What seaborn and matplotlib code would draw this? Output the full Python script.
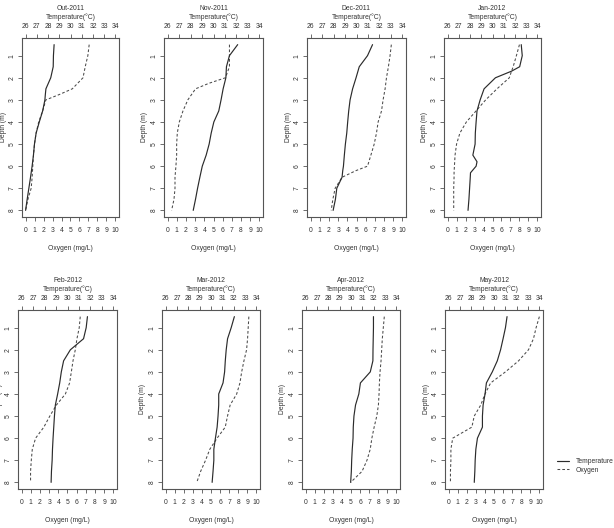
import matplotlib
matplotlib.use('Agg')
import matplotlib.pyplot as plt
import seaborn as sns
from matplotlib.lines import Line2D

# ---------------- data ----------------
months = ['Out-2011', 'Nov-2011', 'Dec-2011', 'Jan-2012',
          'Feb-2012', 'Mar-2012', 'Apr-2012', 'May-2012']
oxy_ticks = [0, 1, 2, 3, 4, 5, 6, 7, 8, 9, 10]
temp_ticks = [26, 27, 28, 29, 30, 31, 32, 33, 34]
depth_ticks = [1, 2, 3, 4, 5, 6, 7, 8]

depth_out = [0.5, 1, 1.5, 2, 2.5, 2.75, 3, 3.5, 4, 4.5, 5, 5.5, 6, 6.5, 7, 7.5, 8]
temp_out = [28.54, 28.48, 28.46, 28.24, 27.81, 27.76, 27.72, 27.52, 27.22, 26.94, 26.79, 26.70, 26.58, 26.44, 26.29, 26.14, 26.00]
oxy_out = [7.08, 6.93, 6.64, 6.39, 5.2, 3.8, 2.26, 1.9, 1.46, 1.17, 0.99, 0.88, 0.8, 0.73, 0.62, 0.26, 0.0]

depth_nov = [0.5, 1, 1.5, 2, 2.25, 2.5, 3, 3.5, 4, 4.5, 5, 5.5, 6, 6.5, 7, 7.5, 8]
temp_nov = [32.11, 31.39, 31.13, 31.08, 30.96, 30.84, 30.66, 30.46, 30.03, 29.80, 29.62, 29.36, 29.02, 28.81, 28.61, 28.43, 28.23]
oxy_nov = [6.74, 6.74, 6.74, 6.3, 4.5, 3.04, 2.2, 1.67, 1.27, 1.05, 0.98, 0.98, 0.9, 0.8, 0.8, 0.69, 0.43]

depth_dec = [0.5, 1, 1.5, 2, 2.5, 3, 3.5, 4, 4.5, 5, 5.5, 6, 6.2, 6.5, 7, 7.5, 8]
temp_dec = [31.40, 30.96, 30.24, 29.96, 29.66, 29.44, 29.32, 29.23, 29.15, 29.03, 28.94, 28.86, 28.80, 28.74, 28.28, 28.16, 27.96]
oxy_dec = [8.8, 8.66, 8.48, 8.27, 8.12, 7.9, 7.73, 7.36, 7.18, 6.93, 6.57, 6.2, 4.95, 3.43, 2.67, 2.42, 2.24]

depth_jan = [0.5, 1, 1.5, 1.7, 2, 2.5, 3, 3.5, 4, 4.5, 5, 5.5, 5.8, 6, 6.3, 6.5, 7, 7.5, 8]
temp_jan = [32.56, 32.65, 32.42, 31.70, 30.26, 29.25, 28.90, 28.62, 28.54, 28.47, 28.45, 28.25, 28.62, 28.54, 28.04, 28.02, 27.96, 27.90, 27.82]
oxy_jan = [8.0, 7.66, 7.3, 7.12, 6.87, 5.5, 4.24, 3.17, 2.09, 1.37, 1.0, 0.83, 0.79, 0.76, 0.72, 0.72, 0.68, 0.68, 0.68]

depth_std = [0.5, 1, 1.5, 2, 2.5, 3, 3.5, 4, 4.5, 5, 5.5, 6, 6.5, 7, 7.5, 8]

temp_feb = [31.74, 31.63, 31.40, 30.25, 29.66, 29.46, 29.32, 29.14, 28.94, 28.86, 28.80, 28.74, 28.69, 28.66, 28.60, 28.57]
oxy_feb = [6.39, 6.28, 6.03, 5.85, 5.6, 5.42, 5.23, 4.77, 3.79, 3.07, 2.42, 1.52, 1.16, 1.05, 0.97, 0.97]

temp_mar = [32.06, 31.78, 31.46, 31.34, 31.26, 31.20, 31.06, 30.68, 30.68, 30.62, 30.54, 30.39, 30.25, 30.25, 30.18, 30.10]
oxy_mar = [9.17, 9.1, 9.03, 8.92, 8.63, 8.38, 8.19, 7.83, 7.11, 6.82, 6.57, 5.67, 4.87, 4.4, 3.86, 3.43]

temp_apr = [31.98, 31.98, 31.96, 31.94, 31.93, 31.70, 30.83, 30.69, 30.40, 30.26, 30.20, 30.18, 30.11, 30.06, 30.03, 29.97]
oxy_apr = [8.67, 8.56, 8.45, 8.38, 8.31, 8.2, 8.13, 8.09, 8.02, 7.84, 7.55, 7.3, 7.12, 6.76, 6.22, 4.96]

temp_may = [31.15, 31.01, 30.80, 30.58, 30.29, 29.85, 29.33, 29.21, 29.04, 28.98, 28.98, 28.54, 28.40, 28.34, 28.31, 28.26]
oxy_may = [10.0, 9.64, 9.35, 8.8, 7.71, 6.26, 4.63, 4.01, 3.54, 2.82, 2.56, 0.45, 0.25, 0.25, 0.2, 0.2]

panels = [
    (depth_out, temp_out, oxy_out),
    (depth_nov, temp_nov, oxy_nov),
    (depth_dec, temp_dec, oxy_dec),
    (depth_jan, temp_jan, oxy_jan),
    (depth_std, temp_feb, oxy_feb),
    (depth_std, temp_mar, oxy_mar),
    (depth_std, temp_apr, oxy_apr),
    (depth_std, temp_may, oxy_may),
]

# ---------------- style / layout ----------------
sns.set_style('white')
plt.rcParams['font.family'] = ['Liberation Sans', 'DejaVu Sans']

W, H = 614, 528
FS = 4.9
TXT = '#333333'
FRAME = '#555555'
LINE_T = '#2b2b2b'
LINE_O = '#4a4a4a'
DASH = (0, (2.6, 2.0))

lefts = [22, 164, 307, 444, 18, 162, 302, 445]
rights = [119, 263, 406, 541, 117, 260, 400, 543]
tops = [38, 38, 38, 38, 310, 310, 310, 310]
bots = [217, 217, 217, 217, 489, 489, 489, 489]

fig = plt.figure(figsize=(W / 100, H / 100), dpi=100)
fig.patch.set_facecolor('white')

for i, (d, t, o) in enumerate(panels):
    l, r, tp, bt = lefts[i], rights[i], tops[i], bots[i]
    wpx, hpx = r - l, bt - tp
    ax = fig.add_axes([l / W, 1 - bt / H, wpx / W, hpx / H])
    ax.set_facecolor('white')
    sns.lineplot(x=o, y=d, orient='y', sort=False, estimator=None, ax=ax,
                 color=LINE_O, linewidth=0.75)
    ax.lines[-1].set_linestyle(DASH)

    axT = ax.twiny()
    sns.lineplot(x=t, y=d, orient='y', sort=False, estimator=None, ax=axT,
                 color=LINE_T, linewidth=0.85)

    ax.set_xlim(-0.4, 10.4)
    axT.set_xlim(25.68, 34.32)
    ax.set_ylim(8.3, 0.2)

    ax.set_xticks(oxy_ticks)
    ax.set_xticklabels([str(v) for v in oxy_ticks])
    axT.set_xticks(temp_ticks)
    axT.set_xticklabels([str(v) for v in temp_ticks])
    ax.set_yticks(depth_ticks)
    ax.set_yticklabels([str(v) for v in depth_ticks], rotation=90, va='center')

    for a in (ax, axT):
        a.set_xlabel('')
        a.set_ylabel('')
        a.grid(False)
    ax.tick_params(axis='x', direction='out', length=2.9, width=0.6, color=FRAME,
                   labelsize=FS, labelcolor=TXT, pad=4.2, bottom=True, top=False)
    ax.tick_params(axis='y', direction='out', length=2.9, width=0.6, color=FRAME,
                   labelsize=FS, labelcolor=TXT, pad=1.8, left=True)
    axT.tick_params(axis='x', direction='out', length=2.9, width=0.6, color=FRAME,
                    labelsize=FS, labelcolor=TXT, pad=2.6, top=True, bottom=False)
    for s in ax.spines.values():
        s.set_color(FRAME)
        s.set_linewidth(0.8)
    for s in axT.spines.values():
        s.set_visible(False)

    ax.text(0.5, 1 + 29.7 / hpx, months[i], transform=ax.transAxes,
            ha='center', va='center', fontsize=FS, color=TXT)
    ax.text(0.5, 1 + 20.7 / hpx, 'Temperature(\u00b0C)', transform=ax.transAxes,
            ha='center', va='center', fontsize=FS, color=TXT)
    ax.text(0.5, -32.0 / hpx, 'Oxygen (mg/L)', transform=ax.transAxes,
            ha='center', va='center', fontsize=FS, color=TXT)
    ax.text(-19.0 / wpx, 0.5, 'Depth (m)', transform=ax.transAxes, rotation=90,
            ha='center', va='center', fontsize=FS, color=TXT)

handles = [Line2D([], [], color=LINE_T, linewidth=0.85),
           Line2D([], [], color=LINE_O, linewidth=0.75, linestyle=DASH)]
fig.legend(handles, ['Temperature', 'Oxygen'], loc='upper left',
           bbox_to_anchor=(557 / W, 1 - 458 / H), frameon=False,
           fontsize=FS, handlelength=1.75, handletextpad=1.0,
           labelspacing=0.25, borderpad=0, borderaxespad=0, labelcolor=TXT)

fig.savefig('out.png', dpi=100, facecolor='white')
